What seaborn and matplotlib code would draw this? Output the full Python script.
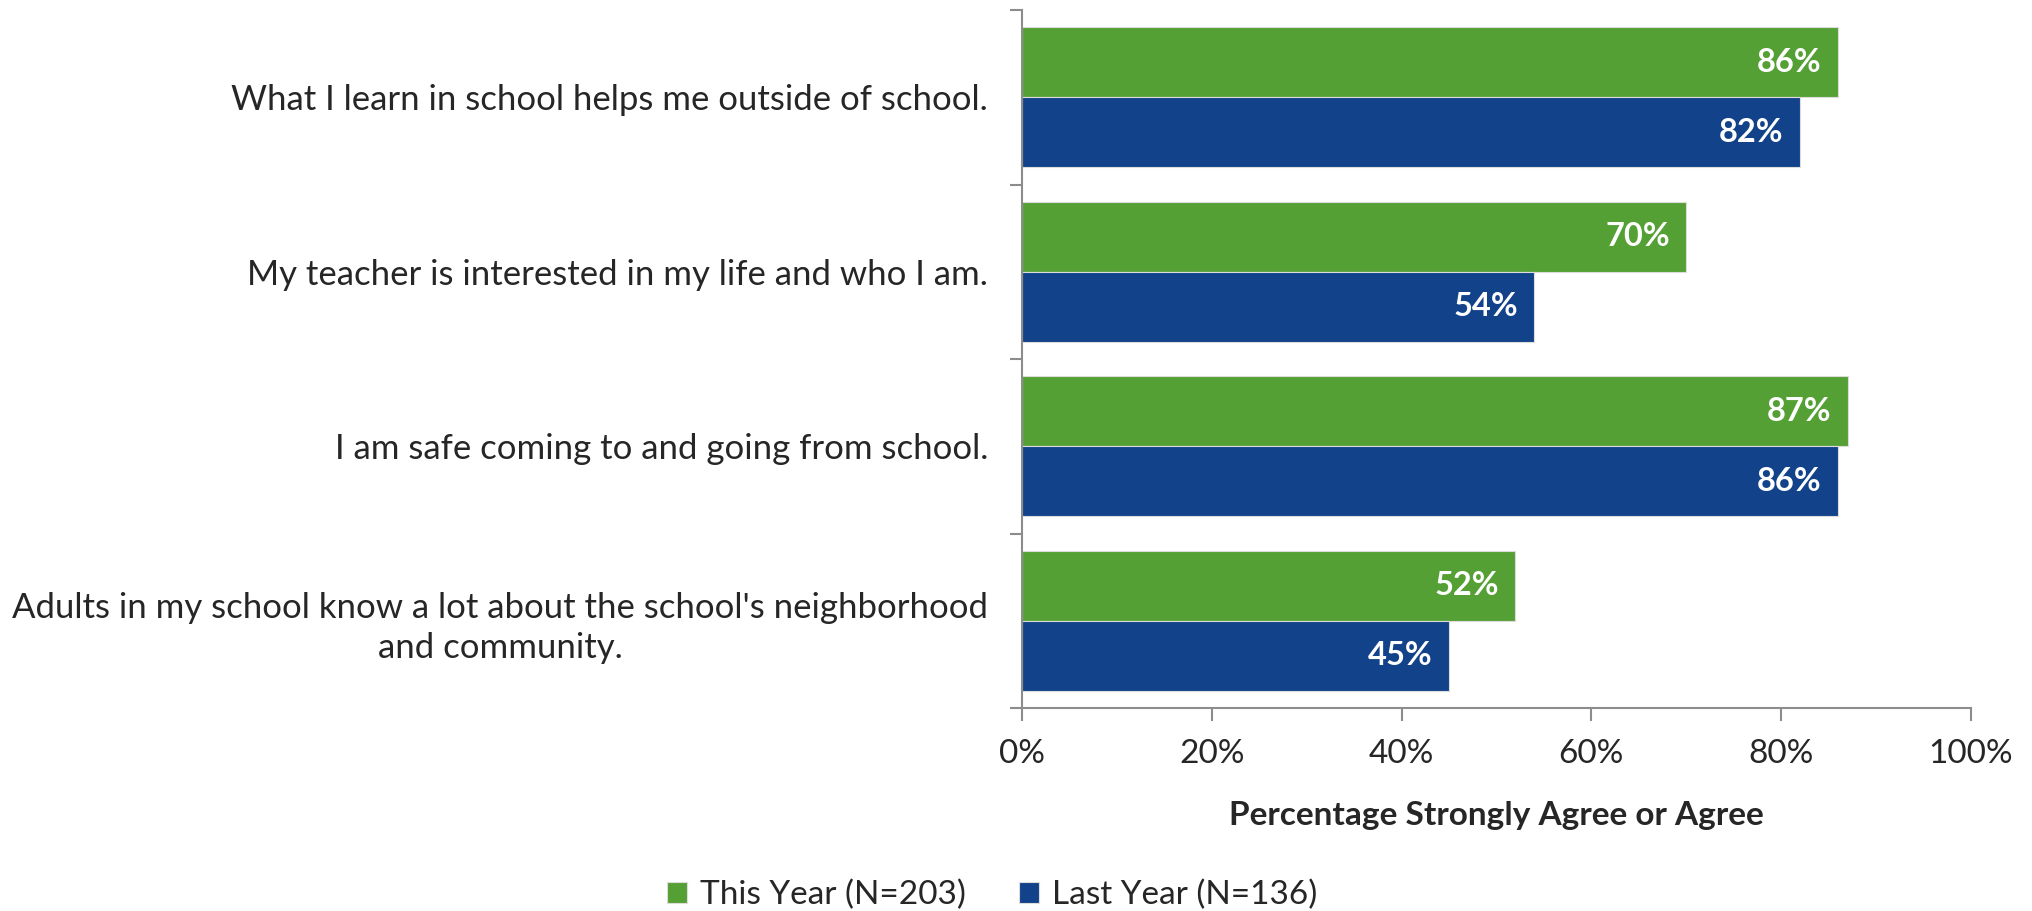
import numpy as np
import pandas as pd
import matplotlib
matplotlib.use("Agg")
import matplotlib.pyplot as plt
import seaborn as sns

# survey items, top to bottom
items = [
    "What I learn in school helps me outside of school.",
    "My teacher is interested in my life and who I am.",
    "I am safe coming to and going from school.",
    "Adults in my school know a lot about the school's neighborhood\nand community.",
]
series = ["This Year (N=203)", "Last Year (N=136)"]
this_year = [86, 70, 87, 52]
last_year = [82, 54, 86, 45]
xticks = [0, 20, 40, 60, 80, 100]

# long format table for seaborn
df = pd.DataFrame({
    "item": items * 2,
    "series": [series[0]] * len(items) + [series[1]] * len(items),
    "value": this_year + last_year,
})

colors = {series[0]: "#55A035", series[1]: "#124289"}
axis_grey = "#8c8c8c"

sns.set_style("white")
plt.rcParams["font.family"] = ["Lato", "DejaVu Sans"]

W, H = 2033, 911
fig = plt.figure(figsize=(W / 100, H / 100), dpi=100)
# axes box in pixels: left 1022, right 1971, top 10, bottom 708
ax = fig.add_axes([1022 / W, 1 - 708 / H, (1971 - 1022) / W, (708 - 10) / H])

sns.barplot(data=df, y="item", x="value", hue="series", hue_order=series,
            order=items, palette=colors, saturation=1, orient="h", width=0.8,
            dodge=True, edgecolor="#dcdcdc", linewidth=0.8, ax=ax, legend=True)

# value labels inside the bar ends
for cont in ax.containers:
    for bar in cont:
        w = bar.get_width()
        yc = bar.get_y() + bar.get_height() / 2
        ax.annotate(f"{w:.0f}%", xy=(w, yc), xytext=(-12, 0),
                    textcoords="offset points", ha="right", va="center",
                    color="white", fontweight="bold", fontsize=23.5)

ax.set_xlim(0, 100)
ax.set_ylim(len(items) - 0.5, -0.5)
ax.set_xticks(xticks)
ax.set_xticklabels([f"{v}%" for v in xticks], fontsize=24)
ax.set_yticks(range(len(items)))
ax.set_yticklabels(items, fontsize=25)
for t in ax.get_yticklabels():
    t.set_multialignment("center")
    t.set_linespacing(1.3)

# excel-style ticks on category boundaries
ax.set_yticks(np.arange(-0.5, len(items)), minor=True)
ax.tick_params(axis="y", which="major", length=0, pad=24.5)
ax.tick_params(axis="y", which="minor", left=True, length=9, width=1.5, color=axis_grey)
ax.tick_params(axis="x", which="major", bottom=True, length=9, width=1.5, color=axis_grey, pad=13)

for side in ["top", "right"]:
    ax.spines[side].set_visible(False)
for side in ["left", "bottom"]:
    ax.spines[side].set_color(axis_grey)
    ax.spines[side].set_linewidth(1.5)

ax.set_ylabel("")
ax.set_xlabel("Percentage Strongly Agree or Agree", fontsize=24, fontweight="bold")
ax.xaxis.set_label_coords(0.5, (708 - 815) / (708 - 10))
ax.xaxis.label.set_va("center")

handles, labels = ax.get_legend_handles_labels()
ax.get_legend().remove()
fig.legend(handles, labels, loc="center", bbox_to_anchor=(0.488, 1 - 895 / H),
           ncol=2, frameon=False, fontsize=24, handlelength=0.6, handleheight=0.6,
           handletextpad=0.4, columnspacing=1.6, borderpad=0)

fig.savefig("out.png", dpi=100, facecolor="white")
